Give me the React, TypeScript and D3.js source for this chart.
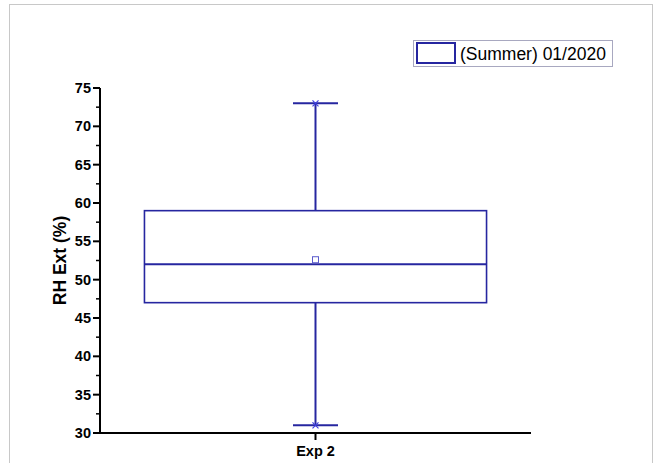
import * as d3 from "d3";

// box plot data (RH Ext %)
const categories = ["Exp 2"];
const boxMin = [31];
const boxQ1 = [47];
const boxMedian = [52];
const boxQ3 = [59];
const boxMax = [73];
const boxMean = [52.6];
const yTicks = [30, 35, 40, 45, 50, 55, 60, 65, 70, 75];
const legendLabel = "(Summer) 01/2020";

const BLUE = "#2626a0";

const App = () => {
  const width = 657;
  const height = 463;
  const margin = { top: 88, left: 100, right: 126, bottom: 30 };
  const innerH = height - margin.top - margin.bottom;

  // y 스케일
  const y = d3.scaleLinear().domain([30, 75]).range([margin.top + innerH, margin.top]);
  const x = d3.scaleBand().domain(categories).range([margin.left, width - margin.right]).padding(0.115);

  const minorTicks = d3.range(32.5, 75, 5);
  const font = "Arial, 'Liberation Sans', sans-serif";

  return (
    <svg width={width} height={height} style={{ position: "fixed", left: 0, top: 0, background: "#fff" }}>
      {/* 바깥 테두리 */}
      <rect x={9.5} y={4.5} width={643} height={470} fill="none" stroke="#c8c8c8" strokeWidth={1} />

      {categories.map((c, i) => {
        const bx = x(c) as number;
        const bw = x.bandwidth();
        const cx = bx + bw / 2;
        const capW = 45;
        return (
          <g key={c} stroke={BLUE} fill="none">
            <line x1={cx} x2={cx} y1={y(boxMax[i])} y2={y(boxQ3[i])} strokeWidth={2} />
            <line x1={cx} x2={cx} y1={y(boxQ1[i])} y2={y(boxMin[i])} strokeWidth={2} />
            <line x1={cx - capW / 2} x2={cx + capW / 2} y1={y(boxMax[i])} y2={y(boxMax[i])} strokeWidth={2} />
            <line x1={cx - capW / 2} x2={cx + capW / 2} y1={y(boxMin[i])} y2={y(boxMin[i])} strokeWidth={2} />
            <rect x={bx} y={y(boxQ3[i])} width={bw} height={y(boxQ1[i]) - y(boxQ3[i])} strokeWidth={1.6} />
            <line x1={bx} x2={bx + bw} y1={y(boxMedian[i])} y2={y(boxMedian[i])} strokeWidth={2} />
            <rect x={cx - 3} y={y(boxMean[i]) - 3} width={6} height={6} strokeWidth={1} stroke="#5a5acc" />
            {[boxMax[i], boxMin[i]].map((v, k) => (
              <path key={k} d={`M${cx - 3},${y(v) - 3}L${cx + 3},${y(v) + 3}M${cx + 3},${y(v) - 3}L${cx - 3},${y(v) + 3}`} strokeWidth={1.2} stroke="#4040e0" />
            ))}
          </g>
        );
      })}

      {/* y 축 */}
      <line x1={margin.left} x2={margin.left} y1={y(75)} y2={y(30) + 1} stroke="#000" strokeWidth={2} />
      {yTicks.map((t) => (
        <g key={t}>
          <line x1={margin.left - 7} x2={margin.left} y1={y(t)} y2={y(t)} stroke="#000" strokeWidth={2} />
          <text x={margin.left - 9} y={y(t) + 5} textAnchor="end" fontFamily={font} fontWeight="bold" fontSize={14.5}>{t}</text>
        </g>
      ))}
      {minorTicks.map((t) => (
        <line key={t} x1={margin.left - 4} x2={margin.left} y1={y(t)} y2={y(t)} stroke="#000" strokeWidth={1.5} />
      ))}
      <text transform={`translate(66,${y(52.5)}) rotate(-90)`} textAnchor="middle" fontFamily={font} fontWeight="bold" fontSize={17.5}>RH Ext (%)</text>

      {/* x 축 */}
      <line x1={margin.left - 1} x2={531} y1={y(30)} y2={y(30)} stroke="#000" strokeWidth={2} />
      {categories.map((c) => {
        const cx = (x(c) as number) + x.bandwidth() / 2;
        return (
          <g key={c}>
            <line x1={cx} x2={cx} y1={y(30)} y2={y(30) + 7} stroke="#000" strokeWidth={2} />
            <text x={cx} y={y(30) + 23} textAnchor="middle" fontFamily={font} fontWeight="bold" fontSize={14.5}>{c}</text>
          </g>
        );
      })}

      {/* 범례 */}
      <rect x={413.5} y={40.5} width={199} height={26} fill="#fff" stroke="#a8a8c0" strokeWidth={1} />
      <rect x={417} y={43} width={38} height={20} fill="none" stroke={BLUE} strokeWidth={2} />
      <text x={460} y={60} fontFamily={font} fontSize={17.5}>{legendLabel}</text>
    </svg>
  );
};

export default App;
